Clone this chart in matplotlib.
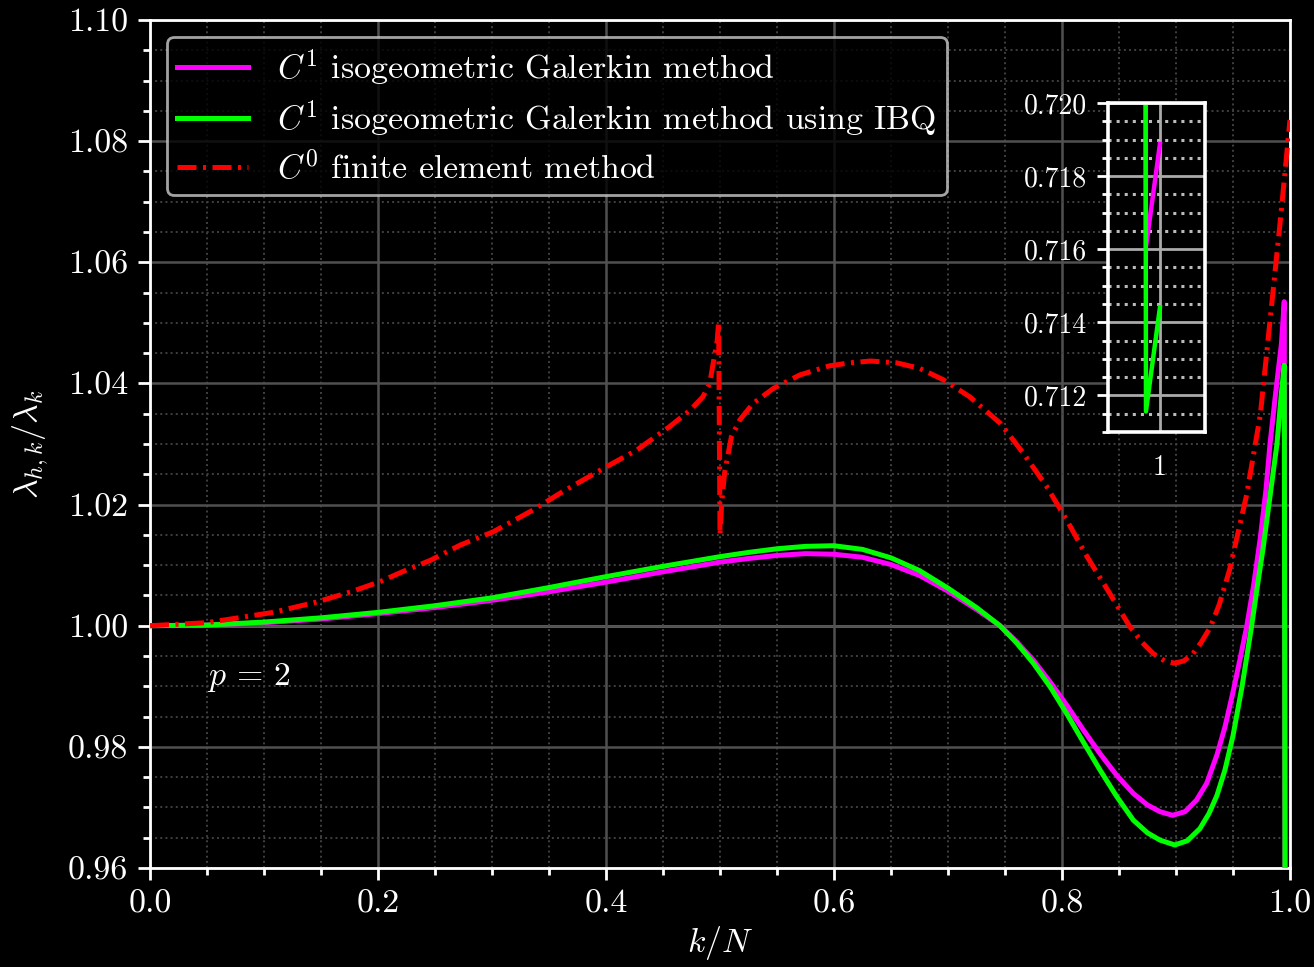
import numpy as np
import matplotlib
matplotlib.use("Agg")
import matplotlib.pyplot as plt
from matplotlib.ticker import MultipleLocator, FixedLocator

plt.rcParams['font.family'] = 'serif'
plt.rcParams['font.serif'] = ['cmr10']
plt.rcParams['mathtext.fontset'] = 'cm'
plt.rcParams['axes.formatter.use_mathtext'] = True
plt.rcParams['font.size'] = 12.2

# C1 isogeometric Galerkin
x_iga = [0, 0.05, 0.1, 0.15, 0.2, 0.25, 0.3, 0.35, 0.4, 0.45, 0.5, 0.525, 0.55, 0.575, 0.6,
         0.625, 0.65, 0.675, 0.7, 0.725, 0.7456, 0.76, 0.7749, 0.79, 0.8041, 0.8187, 0.8333,
         0.848, 0.8626, 0.875, 0.886, 0.897, 0.908, 0.918, 0.927, 0.936, 0.943, 0.950, 0.956,
         0.962, 0.968, 0.974, 0.979, 0.9825, 0.9875, 0.9925, 0.995, 0.9975, 1.0]
y_iga = [1.0, 1.0001, 1.0005, 1.0011, 1.0020, 1.0030, 1.0042, 1.0056, 1.0072, 1.0089, 1.0105,
         1.0111, 1.0116, 1.0119, 1.0118, 1.0113, 1.0101, 1.0083, 1.0057, 1.0027, 1.0000,
         0.9974, 0.9943, 0.9906, 0.9869, 0.9828, 0.9789, 0.9753, 0.9723, 0.9704, 0.9693,
         0.9687, 0.9693, 0.9712, 0.9740, 0.9787, 0.9833, 0.9890, 0.9943, 0.9998, 1.0065,
         1.0145, 1.0225, 1.0300, 1.0385, 1.0465, 1.0535, 0.71605, 0.71888]

# C1 isogeometric Galerkin using IBQ
x_ibq = [0, 0.05, 0.1, 0.15, 0.2, 0.25, 0.3, 0.35, 0.4, 0.45, 0.5, 0.525, 0.55, 0.575, 0.6,
         0.625, 0.65, 0.675, 0.7, 0.725, 0.7456, 0.76, 0.7749, 0.79, 0.8041, 0.8187, 0.8333,
         0.848, 0.8626, 0.875, 0.886, 0.899, 0.910, 0.921, 0.929, 0.936, 0.943, 0.950, 0.958,
         0.966, 0.971, 0.9766, 0.9826, 0.9886, 0.9925, 0.995, 0.9975, 1.0]
y_ibq = [1.0, 1.0001, 1.0006, 1.0013, 1.0022, 1.0033, 1.0046, 1.0063, 1.0081, 1.0098, 1.0114,
         1.0121, 1.0127, 1.0131, 1.0132, 1.0126, 1.0112, 1.0091, 1.0062, 1.0030, 1.0000,
         0.9972, 0.9938, 0.9898, 0.9855, 0.9808, 0.9762, 0.9718, 0.9679, 0.9658, 0.9646,
         0.9638, 0.9645, 0.9665, 0.9690, 0.9720, 0.9762, 0.9818, 0.9900, 0.9995, 1.0060,
         1.0130, 1.0215, 1.0300, 1.0384, 1.0430, 0.71156, 0.71441]

# C0 finite elements
x_fem = [0, 0.05, 0.108, 0.146, 0.178, 0.202, 0.225, 0.246, 0.272, 0.301, 0.336, 0.36, 0.398,
         0.427, 0.456, 0.474, 0.485, 0.491, 0.494, 0.4975, 0.4988, 0.5, 0.5015, 0.504, 0.510,
         0.5175, 0.529, 0.547, 0.570, 0.596, 0.614, 0.632, 0.655, 0.675, 0.696, 0.719, 0.746,
         0.766, 0.7865, 0.804, 0.822, 0.842, 0.859, 0.870, 0.880, 0.890, 0.899, 0.907, 0.915,
         0.922, 0.930, 0.938, 0.947, 0.962, 0.974, 0.982, 0.991, 0.9956, 1.0]
y_fem = [1.0000, 1.0005, 1.0022, 1.0039, 1.0057, 1.0073, 1.0092, 1.0108, 1.0133, 1.0155, 1.0191,
         1.0219, 1.0260, 1.0290, 1.0329, 1.0356, 1.0378, 1.0400, 1.0433, 1.0470, 1.0501,
         1.0150, 1.0202, 1.0252, 1.0312, 1.0340, 1.0367, 1.0392, 1.0414, 1.0429, 1.0434,
         1.0437, 1.0434, 1.0425, 1.0406, 1.0378, 1.0334, 1.0285, 1.0230, 1.0175, 1.0114,
         1.0053, 1.0000, 0.9973, 0.9954, 0.9942, 0.9938, 0.9942, 0.9954, 0.9972, 0.9997,
         1.0035, 1.0092, 1.0216, 1.0348, 1.0494, 1.0659, 1.0747, 1.0835]

labels = [r'$C^1$ isogeometric Galerkin method',
          r'$C^1$ isogeometric Galerkin method using IBQ',
          r'$C^0$ finite element method']

fig = plt.figure(figsize=(6.57, 4.835), dpi=200, facecolor='black')
ax = fig.add_axes([0.1142, 0.1024, 0.8675, 0.8769], facecolor='black')

ax.axhline(1.0, color='#8c8c8c', lw=1.0, zorder=1)
ax.plot(x_iga, y_iga, color='#ff00ff', lw=1.8, label=labels[0], zorder=3)
ax.plot(x_ibq, y_ibq, color='#00ff00', lw=1.8, label=labels[1], zorder=4)
ax.plot(x_fem, y_fem, color='#ff0000', lw=1.8, ls=(0, (3.8, 1.3, 0.6, 1.3)), label=labels[2], zorder=5)

ax.set_xlim(0, 1)
ax.set_ylim(0.96, 1.10)
ax.xaxis.set_minor_locator(MultipleLocator(0.05))
ax.yaxis.set_minor_locator(MultipleLocator(0.005))
ax.set_xticks([0.0, 0.2, 0.4, 0.6, 0.8, 1.0], ['0.0', '0.2', '0.4', '0.6', '0.8', '1.0'])
ax.set_yticks([0.96, 0.98, 1.00, 1.02, 1.04, 1.06, 1.08, 1.10],
              ['0.96', '0.98', '1.00', '1.02', '1.04', '1.06', '1.08', '1.10'])
ax.grid(which='major', color='#505050', lw=0.9, ls='-', zorder=0)
ax.grid(which='minor', color='#404040', lw=0.7, ls=':', zorder=0)
ax.tick_params(which='both', direction='out', colors='white', width=1.0)
ax.tick_params(which='major', length=4.3)
ax.tick_params(which='minor', length=2.5)
for s in ax.spines.values():
    s.set_color('white')
    s.set_linewidth(1.0)

ax.set_xlabel(r'$k/N$', color='white', labelpad=2)
ax.set_ylabel(r'$\lambda_{h,k}/\lambda_k$', color='white', labelpad=6)
ax.text(0.05, 0.9915, r'$p\,=\,2$', color='white', fontsize=12.2, va='center')

leg = ax.legend(loc='upper left', bbox_to_anchor=(0.0, 1.0), facecolor='black',
                edgecolor='#cccccc', labelcolor='white', handlelength=2.1,
                handletextpad=0.85, labelspacing=0.3, borderpad=0.3, fancybox=True)
leg.get_frame().set_linewidth(1.0)

# inset zoom near k/N = 1
axi = fig.add_axes([0.8432, 0.5533, 0.0738, 0.3402], facecolor='black')
axi.plot(x_iga, y_iga, color='#ff00ff', lw=1.6)
axi.plot(x_ibq, y_ibq, color='#00ff00', lw=1.6)
axi.set_xlim(0.990714, 1.008036)
axi.set_ylim(0.7110, 0.7200)
axi.xaxis.set_major_locator(FixedLocator([1.0]))
axi.set_xticklabels(['1'])
axi.yaxis.set_minor_locator(MultipleLocator(0.0005))
axi.set_yticks([0.712, 0.714, 0.716, 0.718, 0.720], ['0.712', '0.714', '0.716', '0.718', '0.720'])
axi.grid(which='major', color='#aaaaaa', lw=1.0, ls='-')
axi.grid(which='minor', axis='y', color='#bbbbbb', lw=1.1, ls=':')
axi.tick_params(which='both', direction='out', colors='white', labelsize=10, width=1.0)
axi.tick_params(axis='x', length=0, pad=8)
axi.tick_params(axis='y', which='major', length=4)
axi.tick_params(axis='y', which='minor', length=2.2)
for s in axi.spines.values():
    s.set_color('white')
    s.set_linewidth(1.3)

fig.savefig('out.png', dpi=200, facecolor='black')
